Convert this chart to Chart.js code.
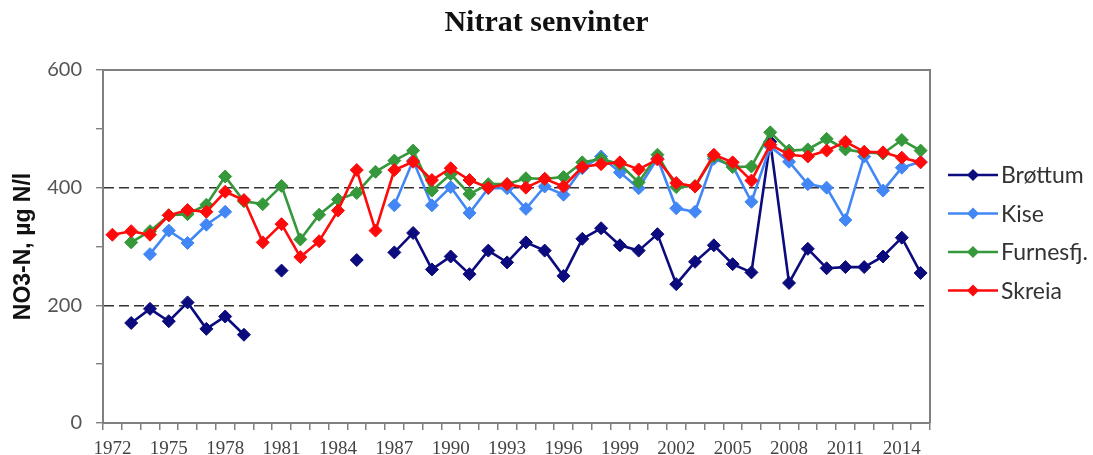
<!DOCTYPE html>
<html>
<head>
<meta charset="utf-8">
<script src="https://cdn.jsdelivr.net/npm/chart.js@4.4.1/dist/chart.umd.min.js"></script>
<style>
html, body { margin: 0; padding: 0; background: #fff; }
#wrap { width: 1093px; height: 455px; position: relative; }
</style>
</head>
<body>
<div id="wrap"><canvas id="nitratChart"></canvas></div>
<script>
const years = [];
for (let y = 1972; y <= 2015; y++) years.push(String(y));

const brottum = [null,170,194,173,205,160,181,150,null,259,
  null,null,null,277,null,290,323,261,283,253,
  293,273,307,293,250,313,331,302,293,321,
  236,274,302,270,256,478,238,296,263,265,
  265,283,315,255];
const kise = [null,null,287,327,306,337,359,null,null,null,
  null,null,null,null,null,370,446,370,401,357,
  399,399,364,402,388,433,453,426,399,450,
  365,359,449,437,376,470,444,406,400,345,
  453,395,434,444];
const furnes = [null,307,326,353,355,371,419,377,372,403,
  312,354,380,391,427,446,463,395,423,389,
  406,406,416,415,418,443,449,440,409,456,
  401,403,453,435,436,494,463,465,483,465,
  460,458,481,463];
const skreia = [320,326,320,353,362,359,393,379,307,338,
  282,309,361,430,327,430,444,413,433,413,
  400,406,400,415,402,435,440,443,431,448,
  408,402,456,443,412,473,456,453,463,478,
  461,460,451,443];

const seriesNames = ["Brøttum", "Kise", "Furnesfj.", "Skreia"];
const seriesColors = ["#0b0b7d", "#4287f5", "#35983a", "#ff0a0a"];
const yTickLabels = [0, 200, 400, 600];
const chartTitle = "Nitrat senvinter";

function line(label, data, color, order) {
  return {
    label: label,
    data: data,
    borderColor: color,
    backgroundColor: color,
    borderWidth: 2.6,
    pointStyle: "rectRot",
    pointRadius: 6.5,
    pointHoverRadius: 6.5,
    pointBorderWidth: 1,
    tension: 0,
    spanGaps: false,
    order: order
  };
}

// title centred on the whole canvas, box round the plot, legend on the right
const frame = {
  id: "frame",
  beforeDatasetsDraw(chart) {
    const a = chart.chartArea, ctx = chart.ctx;
    ctx.save();
    ctx.strokeStyle = "#808080";
    ctx.lineWidth = 2;
    ctx.beginPath();
    ctx.moveTo(a.left, a.top);
    ctx.lineTo(a.right, a.top);
    ctx.lineTo(a.right, a.bottom);
    ctx.stroke();
    ctx.restore();
  },
  afterDraw(chart) {
    const ctx = chart.ctx;
    ctx.save();
    ctx.fillStyle = "#111";
    ctx.font = "bold 30px 'Liberation Serif'";
    ctx.textAlign = "center";
    ctx.textBaseline = "middle";
    ctx.fillText(chartTitle, chart.width / 2, 23);
    ctx.textAlign = "left";
    chart.data.datasets.forEach((ds, i) => {
      const y = 175 + i * 38.5;
      ctx.strokeStyle = ds.borderColor;
      ctx.fillStyle = ds.borderColor;
      ctx.lineWidth = 2.5;
      ctx.beginPath();
      ctx.moveTo(948, y);
      ctx.lineTo(998, y);
      ctx.stroke();
      ctx.beginPath();
      ctx.moveTo(973, y - 6);
      ctx.lineTo(979, y);
      ctx.lineTo(973, y + 6);
      ctx.lineTo(967, y);
      ctx.closePath();
      ctx.fill();
      ctx.fillStyle = "#333";
      ctx.font = "23px Lato";
      ctx.fillText(ds.label, 1001, y + 1);
    });
    ctx.restore();
  }
};

new Chart(document.getElementById("nitratChart"), {
  type: "line",
  data: {
    labels: years,
    datasets: [
      line(seriesNames[0], brottum, seriesColors[0], 4),
      line(seriesNames[1], kise, seriesColors[1], 3),
      line(seriesNames[2], furnes, seriesColors[2], 2),
      line(seriesNames[3], skreia, seriesColors[3], 1)
    ]
  },
  options: {
    responsive: true,
    maintainAspectRatio: false,
    animation: false,
    layout: { padding: { left: 8, right: 163, top: 70, bottom: 0 } },
    plugins: {
      legend: { display: false },
      tooltip: { enabled: false },
      title: { display: false }
    },
    scales: {
      x: {
        offset: true,
        grid: { offset: true, drawOnChartArea: false, tickLength: 7, tickColor: "#808080", lineWidth: 1.5 },
        border: { color: "#808080", width: 2 },
        ticks: {
          autoSkip: false,
          maxRotation: 0,
          padding: 8,
          color: "#444",
          font: { family: "Liberation Serif", size: 19 },
          callback: function (v, i) { return i % 3 === 0 ? this.getLabelForValue(v) : ""; }
        },
        afterFit(scale) { scale.height = 32; }
      },
      y: {
        min: 0,
        max: 600,
        grid: {
          color: c => (c.tick && (c.tick.value === 200 || c.tick.value === 400)) ? "#333" : "rgba(0,0,0,0)",
          lineWidth: 1.4,
          tickLength: 7,
          tickColor: "#808080"
        },
        border: { color: "#808080", width: 2, dash: [10, 5] },
        ticks: {
          stepSize: 100,
          padding: 14,
          color: "#555",
          font: { family: "Lato", size: 20 },
          callback: v => yTickLabels.includes(v) ? v : ""
        },
        title: {
          display: true,
          text: "NO3-N, µg N/l",
          color: "#111",
          font: { family: "Liberation Sans", size: 23, weight: "bold" },
          padding: { top: 2, bottom: 4 }
        },
        afterFit(scale) { scale.width = 95; }
      }
    }
  },
  plugins: [frame]
});
</script>
</body>
</html>
